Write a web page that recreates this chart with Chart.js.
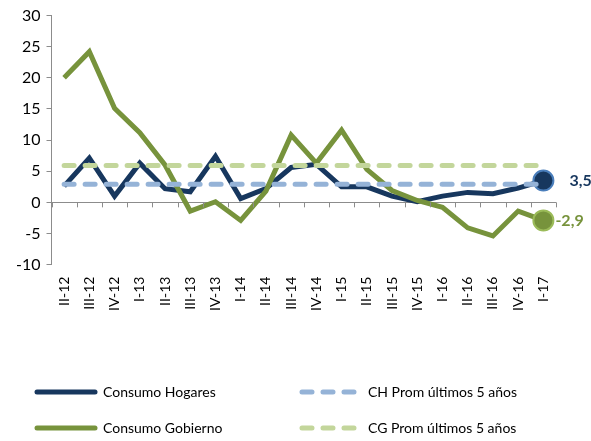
<!DOCTYPE html>
<html lang="es">
<head>
  <meta charset="UTF-8" />
  <title>Consumo Hogares y Gobierno</title>
  <script src="https://cdn.jsdelivr.net/npm/chart.js"></script>
  <style>
    html, body { margin: 0; padding: 0; background: #fff; }
    #wrap { width: 591px; height: 441px; position: relative; }
  </style>
</head>
<body>
  <div id="wrap"><canvas id="chart"></canvas></div>
  <script>
    // quarters
    const labels = ['II-12', 'III-12', 'IV-12', 'I-13', 'II-13', 'III-13', 'IV-13', 'I-14', 'II-14', 'III-14',
                    'IV-14', 'I-15', 'II-15', 'III-15', 'IV-15', 'I-16', 'II-16', 'III-16', 'IV-16', 'I-17'];
    const hogares  = [2.6, 7.1, 1.0, 6.3, 2.2, 1.7, 7.4, 0.6, 2.2, 5.6, 6.1, 2.5, 2.5, 1.0, 0.1, 1.0, 1.6, 1.4, 2.3, 3.5];
    const gobierno = [20.0, 24.2, 15.1, 11.2, 6.0, -1.4, 0.1, -2.9, 1.8, 10.8, 6.3, 11.6, 5.3, 1.9, 0.3, -0.8, -4.1, -5.4, -1.4, -2.9];
    const chProm = 2.9;
    const cgProm = 5.9;
    const yTicks = [-10, -5, 0, 5, 10, 15, 20, 25, 30];

    const NAVY = '#17375e';
    const GREEN = '#77933c';
    const LBLUE = '#95b3d7';
    const LGREEN = '#c3d69b';
    const FONT = 'Lato, "Open Sans", sans-serif';

    const last = labels.length - 1;
    const endRadius = arr => arr.map((v, i) => i === last ? 10 : 0);

    // tick marks along the zero line + end labels + legend
    const extras = {
      id: 'extras',
      afterDatasetsDraw(chart) {
        const c = chart.ctx;
        const x = chart.scales.x, y = chart.scales.y;
        const y0 = y.getPixelForValue(0);
        const step = x.getPixelForValue(1) - x.getPixelForValue(0);
        c.save();
        c.strokeStyle = '#8c8c8c';
        c.lineWidth = 1;
        for (let i = 0; i <= labels.length; i++) {
          const px = Math.round(x.getPixelForValue(i) - step / 2) + 0.5;
          c.beginPath();
          c.moveTo(px, y0);
          c.lineTo(px, y0 + 5);
          c.stroke();
        }
        // end value labels
        c.font = 'bold 16px ' + FONT;
        c.textBaseline = 'middle';
        c.textAlign = 'left';
        const xe = x.getPixelForValue(last);
        c.fillStyle = NAVY;
        c.fillText(hogares[last].toFixed(1).replace('.', ','), xe + 26, y.getPixelForValue(hogares[last]));
        c.fillStyle = GREEN;
        c.fillText(gobierno[last].toFixed(1).replace('.', ','), xe + 12, y.getPixelForValue(gobierno[last]));

        // legend
        const items = [
          { text: 'Consumo Hogares', color: NAVY, dash: false, x: 35, y: 392 },
          { text: 'CH Prom últimos 5 años', color: LBLUE, dash: true, x: 300, y: 392 },
          { text: 'Consumo Gobierno', color: GREEN, dash: false, x: 35, y: 428 },
          { text: 'CG Prom últimos 5 años', color: LGREEN, dash: true, x: 300, y: 428 }
        ];
        c.font = '14px ' + FONT;
        items.forEach(it => {
          c.beginPath();
          c.strokeStyle = it.color;
          c.lineWidth = 5;
          c.lineCap = 'round';
          c.setLineDash(it.dash ? [10, 11] : []);
          c.moveTo(it.x + 2, it.y);
          c.lineTo(it.x + 60, it.y);
          c.stroke();
          c.setLineDash([]);
          c.fillStyle = '#000';
          c.fillText(it.text, it.x + 68, it.y);
        });
        c.restore();
      }
    };

    new Chart(document.getElementById('chart'), {
      type: 'line',
      data: {
        labels: labels,
        datasets: [
          {
            label: 'CH Prom últimos 5 años',
            data: labels.map(() => chProm),
            borderColor: LBLUE,
            borderWidth: 5,
            borderDash: [10, 11],
            borderCapStyle: 'round',
            pointRadius: 0,
            order: 0
          },
          {
            label: 'CG Prom últimos 5 años',
            data: labels.map(() => cgProm),
            borderColor: LGREEN,
            borderWidth: 5,
            borderDash: [10, 11],
            borderCapStyle: 'round',
            pointRadius: 0,
            order: 0
          },
          {
            label: 'Consumo Gobierno',
            data: gobierno,
            borderColor: GREEN,
            borderWidth: 5,
            pointRadius: endRadius(gobierno),
            pointBackgroundColor: GREEN,
            pointBorderColor: '#9bbb59',
            pointBorderWidth: 2,
            order: 1
          },
          {
            label: 'Consumo Hogares',
            data: hogares,
            borderColor: NAVY,
            borderWidth: 5,
            pointRadius: endRadius(hogares),
            pointBackgroundColor: NAVY,
            pointBorderColor: '#4a7ebb',
            pointBorderWidth: 2,
            order: 2
          }
        ]
      },
      options: {
        responsive: true,
        maintainAspectRatio: false,
        animation: false,
        layout: { padding: { top: 8, right: 35, bottom: 126, left: 10 } },
        plugins: {
          legend: { display: false },
          tooltip: { enabled: false }
        },
        scales: {
          x: {
            offset: true,
            grid: { display: false },
            border: { display: false },
            ticks: {
              color: '#000',
              font: { family: FONT, size: 14 },
              minRotation: 90,
              maxRotation: 90,
              autoSkip: false,
              padding: 4
            }
          },
          y: {
            min: -10,
            max: 30,
            afterBuildTicks: axis => { axis.ticks = yTicks.map(v => ({ value: v })); },
            grid: {
              color: ctx => ctx.tick && ctx.tick.value === 0 ? '#8c8c8c' : 'rgba(0,0,0,0)',
              tickColor: '#8c8c8c',
              tickLength: 5,
              lineWidth: 1
            },
            border: { display: true, color: '#8c8c8c' },
            ticks: {
              color: '#000',
              font: { family: FONT, size: 16 },
              padding: 6
            }
          }
        }
      },
      plugins: [extras]
    });
  </script>
</body>
</html>
